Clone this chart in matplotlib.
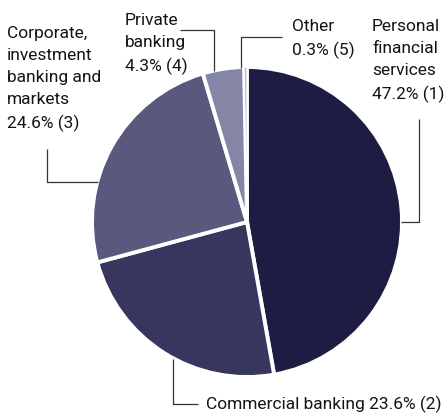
import matplotlib
matplotlib.use("Agg")
import matplotlib.pyplot as plt

# Share of group revenue by business segment (%)
segments = ["Personal financial services", "Commercial banking",
            "Corporate, investment banking and markets", "Private banking", "Other"]
shares = [47.2, 23.6, 24.6, 4.3, 0.3]
ranks = [1, 2, 3, 4, 5]
labels = ["Personal\nfinancial\nservices", "Commercial banking",
          "Corporate,\ninvestment\nbanking and\nmarkets", "Private\nbanking", "Other"]
colors = ["#1d1d43", "#36365f", "#59597e", "#8585a5", "#c0c0d4"]

W, H = 447, 414
plt.rcParams["font.family"] = ["Roboto", "DejaVu Sans"]

fig = plt.figure(figsize=(W / 100, H / 100), dpi=100)
ax = fig.add_axes([0, 0, 1, 1])


def fy(p):
    # pixel row (from top) -> data y
    return H - p


cx, cy, r = 247, 223, 155
wedges, _ = ax.pie(shares, colors=colors, startangle=90, counterclock=False,
                   center=(cx, fy(cy)), radius=r,
                   wedgeprops=dict(edgecolor="white", linewidth=2.8))
# keep the tiny slice visible on top of its neighbours' white borders
wedges[4].set_linewidth(0.8)
wedges[4].set_zorder(3)

ax.set_xlim(0, W)
ax.set_ylim(0, H)
ax.set_aspect("auto")
ax.axis("off")

fs = 12.5
ls = 1.58
txt = dict(fontsize=fs, color="#141414", linespacing=ls, ha="left", va="top")


def lbl(i):
    return f"{labels[i]}\n{shares[i]:.1f}% ({ranks[i]})"


ax.text(372, fy(19), lbl(0), **txt)
ax.text(206, fy(396), f"{labels[1]} {shares[1]:.1f}% ({ranks[1]})", **txt)
ax.text(7, fy(26), lbl(2), **txt)
ax.text(125, fy(13), lbl(3), **txt)
ax.text(292, fy(19), f"{labels[4]}\n{shares[4]:.1f}% ({ranks[4]})", **txt)

line = dict(color="#333333", linewidth=0.9, solid_capstyle="butt", zorder=4)
leaders = [
    ([419, 419, 401], [120, 223, 223]),
    ([173, 173, 198], [360, 405, 405]),
    ([47, 47, 98], [150, 183, 183]),
    ([180, 214, 214], [31, 31, 72]),
    ([282, 241, 241], [38, 38, 69]),
]
for xs, ys in leaders:
    ax.plot(xs, [fy(v) for v in ys], **line)

fig.savefig("out.png", dpi=100)
